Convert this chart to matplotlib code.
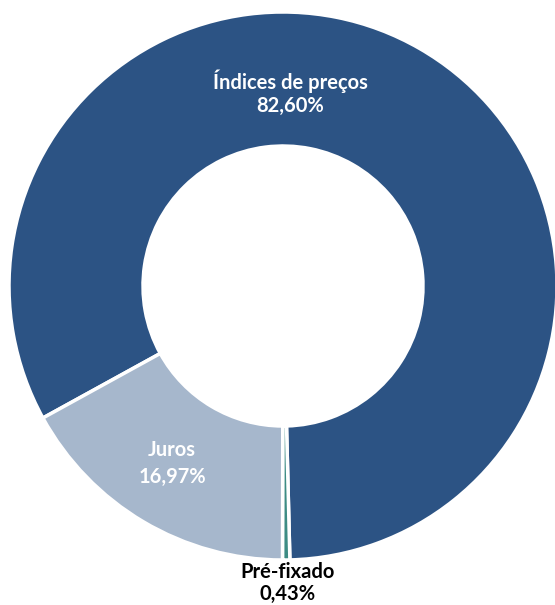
import matplotlib
matplotlib.use("Agg")
import matplotlib.pyplot as plt

categories = ["Índices de preços", "Pré-fixado", "Juros"]
values = [82.60, 0.43, 16.97]
pct_labels = ["82,60%", "0,43%", "16,97%"]
colors = ["#2C5384", "#3D8C84", "#A6B7CC"]
text_colors = ["white", "black", "white"]
# label positions in pixel coords (x, y from top) for the two lines
label_pos = [(290, 81, 106), (288, 572, 594), (172, 450, 477)]

W, H = 555, 605
fig = plt.figure(figsize=(W / 100, H / 100), dpi=100)
ax = fig.add_axes([0, 0, 1, 1])

cx, cy, R, Rin = 283, 286, 274, 140
ax.pie(values, colors=colors, startangle=208.8, counterclock=False,
       center=(cx, H - cy), radius=R, frame=True,
       wedgeprops=dict(width=R - Rin, edgecolor="white", linewidth=2.5))

for cat, pct, tc, (x, y1, y2) in zip(categories, pct_labels, text_colors, label_pos):
    ax.text(x, H - y1, cat, ha="center", va="center", color=tc,
            fontsize=14.5, fontweight="bold", family="Lato")
    ax.text(x, H - y2, pct, ha="center", va="center", color=tc,
            fontsize=14.5, fontweight="bold", family="Lato")

ax.set_xlim(0, W)
ax.set_ylim(0, H)
ax.set_aspect("equal")
ax.axis("off")
fig.savefig("out.png", dpi=100, facecolor="white")
